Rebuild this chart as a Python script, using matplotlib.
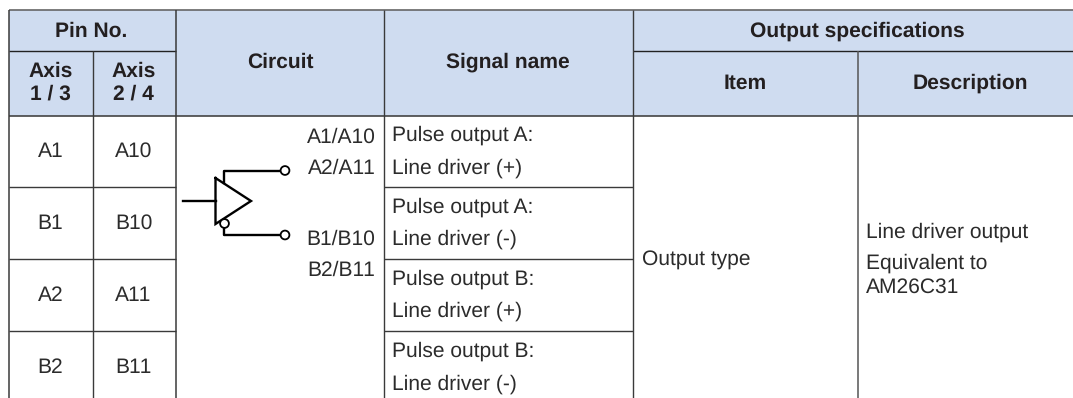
import matplotlib
matplotlib.use("Agg")
import matplotlib.pyplot as plt
from matplotlib.patches import Rectangle, Circle

W, H = 1073, 398
plt.rcParams['font.family'] = ['Liberation Sans', 'DejaVu Sans']
plt.rcParams['text.hinting'] = 'no_hinting'
plt.rcParams['text.hinting_factor'] = 1

# Content
pins_axis13 = ["A1", "B1", "A2", "B2"]
pins_axis24 = ["A10", "B10", "A11", "B11"]
signal_names = ["Pulse output A:\nLine driver (+)", "Pulse output A:\nLine driver (-)",
                "Pulse output B:\nLine driver (+)", "Pulse output B:\nLine driver (-)"]
terminals = ["A1/A10", "A2/A11", "B1/B10", "B2/B11"]
item_text = "Output type"
desc_lines = ["Line driver output", "Equivalent to\nAM26C31"]

# Grid
XS = [8.7, 92.5, 175.5, 383.5, 633.3, 858.3, 1073]
YS = [10, 50.5, 115.5, 187, 258.7, 331, 398]
HEAD = '#cfdcf0'
LINE = '#3a3a3a'
TXT = '#2b2b2b'
BOLD = '#231f20'

fig = plt.figure(figsize=(W / 100, H / 100), dpi=100)
ax = fig.add_axes([0, 0, 1, 1])
ax.set_xlim(0, W)
ax.set_ylim(H, 0)
ax.axis('off')

ax.add_patch(Rectangle((XS[0], YS[0]), XS[-1] - XS[0], YS[2] - YS[0], fc=HEAD, ec='none', zorder=0))


def hl(y, a, b, lw=1.1, c=LINE):
    ax.plot([a, b], [y, y], color=c, lw=lw, solid_capstyle='butt', zorder=2)


def vl(x, a, b, lw=1.1, c=LINE):
    ax.plot([x, x], [a, b], color=c, lw=lw, solid_capstyle='butt', zorder=2)


hl(YS[0], XS[0], W, lw=1.2, c='#666666')
hl(YS[1], XS[0], XS[2], lw=1.0, c='#222222')
hl(YS[1], XS[4], W, lw=1.0, c='#222222')
hl(YS[2], XS[0], W, lw=1.2, c='#444444')
for y in YS[3:6]:
    hl(y, XS[0], XS[2], lw=1.0)
    hl(y, XS[3], XS[4], lw=1.0)
vl(XS[0], YS[0], H, lw=1.1)
vl(XS[1], YS[1], H, lw=1.0)
vl(XS[2], YS[0], H, lw=1.1)
vl(XS[3], YS[0], H, lw=1.0)
vl(XS[4], YS[0], H, lw=1.0)
vl(XS[5], YS[1], H, lw=1.1, c='#555555')


def bold(x, y, s, size=15.0):
    ax.text(x, y, s, ha='center', va='center', fontsize=size, fontweight='bold',
            color=BOLD, linespacing=1.2)


def reg(x, y, s, ha='center', size=15.2, ls=1.85):
    ax.text(x, y, s, ha=ha, va='center', fontsize=size, color=TXT, linespacing=ls)


bold((XS[0] + XS[2]) / 2 - 0.5, 31.5, "Pin No.")
bold(50.5, 82.5, "Axis\n1 / 3")
bold(133.5, 82.5, "Axis\n2 / 4")
bold(280, 62.5, "Circuit")
bold(508, 62.5, "Signal name")
bold(857.7, 31.5, "Output specifications")
bold(745.5, 83, "Item")
bold(970.5, 83, "Description")

for i in range(4):
    yc = (YS[i + 2] + YS[i + 3]) / 2
    if i == 3:
        yc = 367
    reg(50.5, yc + 0.5, pins_axis13[i])
    reg(133.5, yc + 0.5, pins_axis24[i])
    reg(391.5, yc + 0.5, signal_names[i], ha='left')

for label, y in zip(terminals, [137, 168.5, 239, 270.5]):
    reg(375.5, y, label, ha='right', size=14.9)

reg(641.5, 260, item_text, ha='left')
reg(866, 232.5, desc_lines[0], ha='left')
reg(866, 275.5, desc_lines[1], ha='left', ls=1.28)

# Line-driver symbol
K = 'black'
LW = 1.7
ax.plot([183, 216], [201, 201], color=K, lw=LW, zorder=3)
ax.plot([215.5, 251, 215.5, 215.5], [178, 201, 224, 178], color=K, lw=LW, zorder=3, solid_joinstyle='miter')
ax.plot([224, 224, 281], [183, 170.5, 170.5], color=K, lw=LW, zorder=3)
ax.plot([224, 224, 281], [226, 235, 235], color=K, lw=LW, zorder=3)
for cx, cy in [(285, 170.5), (285, 235), (224.5, 223.5)]:
    ax.add_patch(Circle((cx, cy), 4.4, fc='white', ec=K, lw=1.3, zorder=4))

fig.savefig("out.png", dpi=100, facecolor='white')
